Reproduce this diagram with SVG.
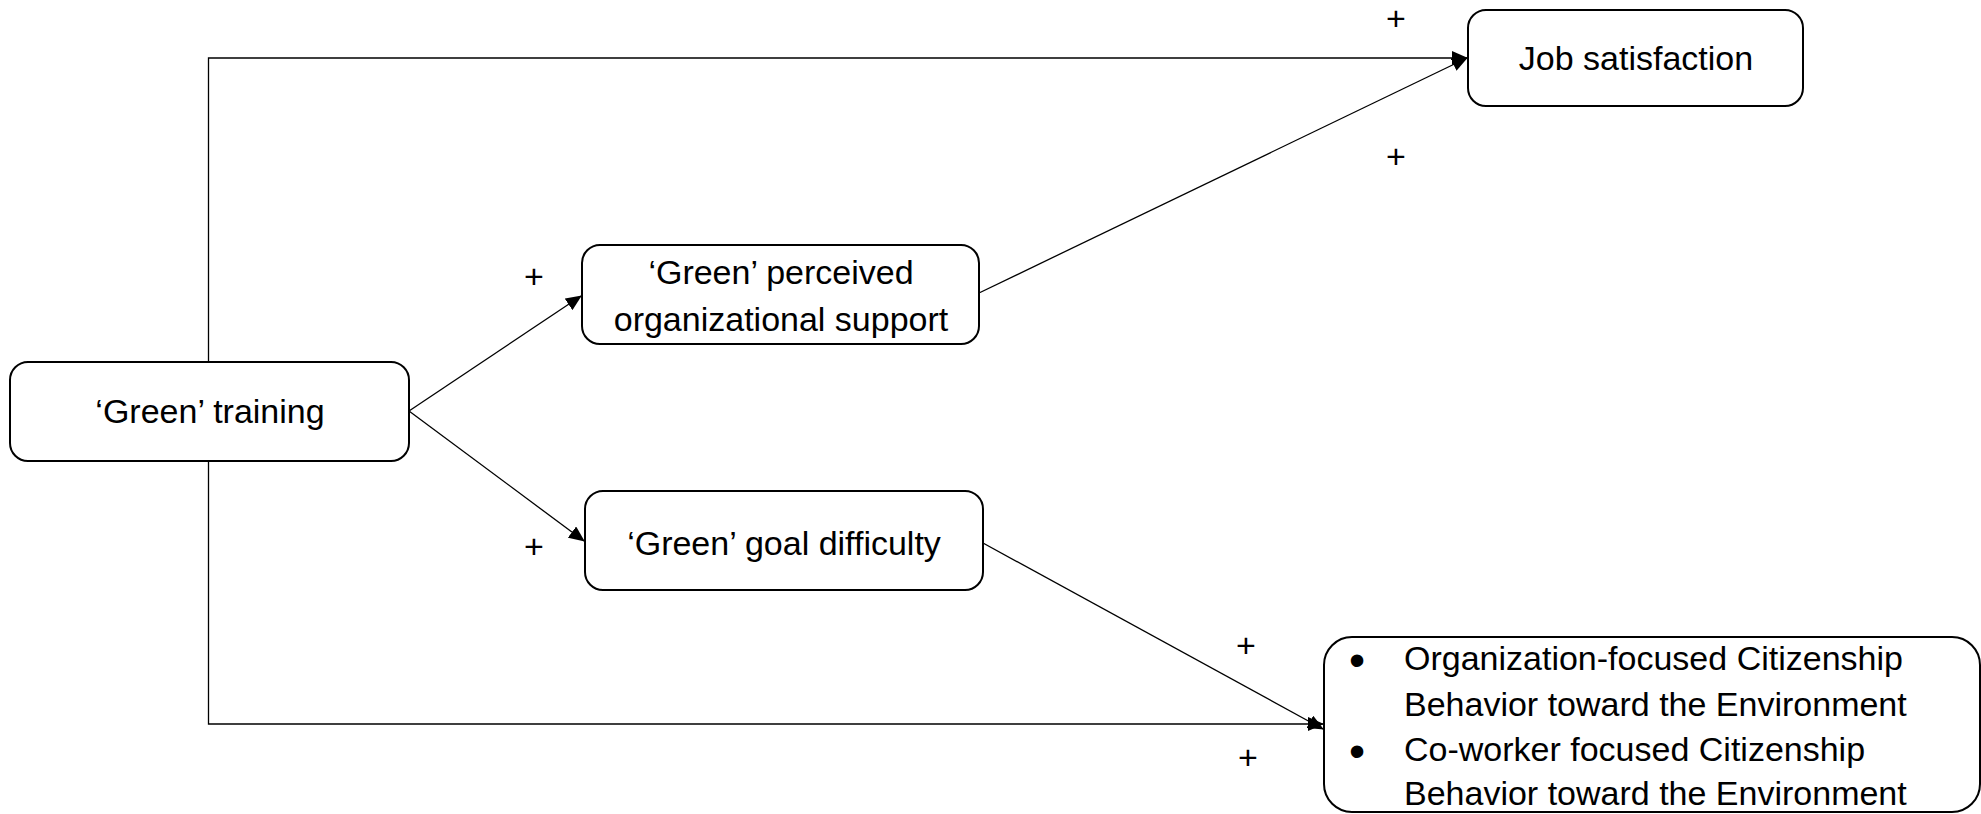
<svg xmlns="http://www.w3.org/2000/svg" width="1981" height="814" viewBox="0 0 1981 814">
<style>
.box{fill:#fff;stroke:#000;stroke-width:2}
.t{font-family:"Liberation Sans",Arial,sans-serif;font-size:34px;fill:#000}
.c{text-anchor:middle}
.b{font-family:"Liberation Sans",Arial,sans-serif;font-size:46px;text-anchor:middle;fill:#000}
.ln{fill:none;stroke:#000;stroke-width:1.3}
</style>
<defs>
<marker id="ah" markerWidth="16" markerHeight="14" refX="15" refY="7" orient="auto" markerUnits="userSpaceOnUse">
<path d="M0,0 L16,7 L0,14 Z" fill="#000"/>
</marker>
</defs>
<g id="connectors">
<polyline class="ln" points="208.5,361 208.5,58 1467,58" marker-end="url(#ah)"/>
<polyline class="ln" points="208.5,461 208.5,724 1323,724" marker-end="url(#ah)"/>
<line class="ln" x1="409" y1="411" x2="581" y2="296" marker-end="url(#ah)"/>
<line class="ln" x1="409" y1="411" x2="584" y2="541" marker-end="url(#ah)"/>
<line class="ln" x1="979" y1="293" x2="1467" y2="58" marker-end="url(#ah)"/>
<line class="ln" x1="983" y1="543" x2="1323" y2="729" marker-end="url(#ah)"/>
<text class="t c" x="1396" y="30">+</text>
<text class="t c" x="1396" y="168">+</text>
<text class="t c" x="534" y="288">+</text>
<text class="t c" x="534" y="558">+</text>
<text class="t c" x="1246" y="657">+</text>
<text class="t c" x="1248" y="769">+</text>
</g>
<g id="training">
<rect class="box" x="10" y="362" width="399" height="99" rx="18"/>
<text class="t c" x="210" y="423">‘Green’ training</text>
</g>
<g id="job">
<rect class="box" x="1468" y="10" width="335" height="96" rx="18"/>
<text class="t c" x="1636" y="70">Job satisfaction</text>
</g>
<g id="pos">
<rect class="box" x="582" y="245" width="397" height="99" rx="18"/>
<text class="t c" x="781" y="284">‘Green’ perceived</text>
<text class="t c" x="781" y="331">organizational support</text>
</g>
<g id="goal">
<rect class="box" x="585" y="491" width="398" height="99" rx="18"/>
<text class="t c" x="784" y="555">‘Green’ goal difficulty</text>
</g>
<g id="ocbe">
<rect class="box" x="1324" y="637" width="656" height="175" rx="28"/>
<text class="b" x="1357" y="676">•</text>
<text class="t" x="1404" y="670">Organization-focused Citizenship</text>
<text class="t" x="1404" y="716">Behavior toward the Environment</text>
<text class="b" x="1357" y="767">•</text>
<text class="t" x="1404" y="761">Co-worker focused Citizenship</text>
<text class="t" x="1404" y="805">Behavior toward the Environment</text>
</g>
</svg>
